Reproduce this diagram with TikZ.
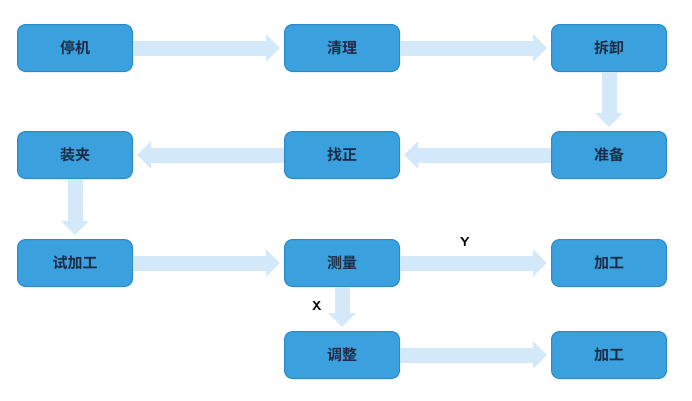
\documentclass[tikz,border=0pt]{standalone}
\usepackage{fontspec}
\newfontfamily\cjk{Noto Sans CJK SC Bold}
\usetikzlibrary{arrows.meta}
\definecolor{boxc}{HTML}{3AA0DE}
\definecolor{boxb}{HTML}{2A8AC6}
\definecolor{arr}{HTML}{D3E9F9}
\definecolor{txt}{HTML}{1E2B45}
\tikzset{
  box/.style={draw=boxb,line width=1pt,fill=boxc,rounded corners=8pt,minimum width=115pt,minimum height=47pt,font=\cjk\fontsize{15pt}{15pt}\selectfont,text=txt},
  fat/.style={draw=arr,line width=15pt,-{Triangle[length=14pt,width=27pt]},shorten >=4pt},
  lab/.style={font=\sffamily\bfseries\fontsize{13pt}{13pt}\selectfont,text=black}
}
\begin{document}
\begin{tikzpicture}[x=1pt,y=-1pt]
\useasboundingbox (0,0) rectangle (692,400);
\node[box] (a) at (75,48) {停机};
\node[box] (b) at (342,48) {清理};
\node[box] (c) at (609,48) {拆卸};
\node[box] (d) at (609,155) {准备};
\node[box] (e) at (342,155) {找正};
\node[box] (f) at (75,155) {装夹};
\node[box] (g) at (75,263) {试加工};
\node[box] (h) at (342,263) {测量};
\node[box] (i) at (609,263) {加工};
\node[box] (j) at (342,355) {调整};
\node[box] (k) at (609,355) {加工};
\draw[fat] (a) -- (b);
\draw[fat] (b) -- (c);
\draw[fat] (c) -- (d);
\draw[fat] (d) -- (e);
\draw[fat] (e) -- (f);
\draw[fat] (f) -- (g);
\draw[fat] (g) -- (h);
\draw[fat] (h) -- (i);
\draw[fat] (h) -- (j);
\draw[fat] (j) -- (k);
\node[lab] (y) at (465,242) {Y};
\node[lab] (x) at (317,306) {X};
\end{tikzpicture}
\end{document}
